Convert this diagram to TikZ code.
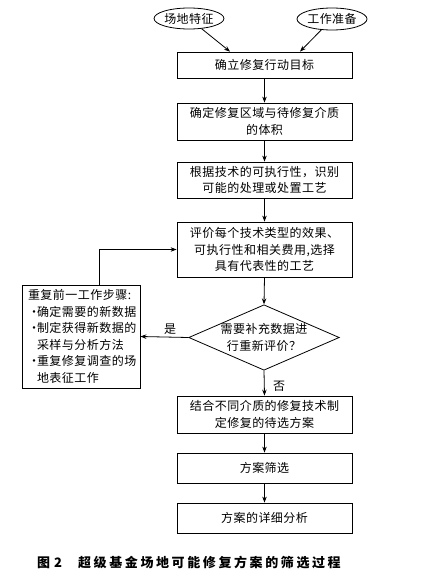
\documentclass[tikz,border=0pt]{standalone}
\usepackage{fontspec}
\setmainfont{Noto Sans CJK SC}[LetterSpace=4]
\usetikzlibrary{shapes.geometric,arrows.meta}
\begin{document}
\begin{tikzpicture}[x=1pt,y=-1pt,
  font=\fontsize{12}{16.5}\selectfont,
  box/.style={draw,line width=0.8pt,minimum width=175pt,inner sep=0pt,align=center},
  oval/.style={draw,ellipse,line width=0.8pt,inner sep=0pt},
  arr/.style={line width=0.8pt,-{Stealth[length=6pt,width=4.5pt]}},
  lbl/.style={inner sep=0pt}]
\useasboundingbox (0,0) rectangle (425,578);
\node[oval,minimum width=62pt,minimum height=21pt] (e1) at (189,18.5) {场地特征};
\node[oval,minimum width=70pt,minimum height=22pt] (e2) at (332,19) {工作准备};
\node[box,minimum height=26pt] (b1) at (264.5,65) {确立修复行动目标};
\node[box,minimum height=37pt] (b2) at (264.5,121.5) {确定修复区域与待修复介质\\的体积};
\node[box,minimum height=36pt] (b3) at (264.5,180) {根据技术的可执行性，识别\\可能的处理或处置工艺};
\node[box,minimum height=55pt] (b4) at (264.5,249.5) {评价每个技术类型的效果、\\可执行性和相关费用,选择\\具有代表性的工艺};
\node[draw,diamond,aspect=2.3,inner sep=0pt,minimum width=149pt,minimum height=65pt,line width=0.8pt,align=center] (d) at (264,337.5) {需要补充数据进\\行重新评价？};
\node[draw,line width=0.8pt,text width=106pt,inner xsep=6pt,inner ysep=0pt,minimum height=103pt,align=left] (lb) at (81,336.5) {重复前一工作步骤:\\
\makebox[9pt][l]{•}确定需要的新数据\\
\makebox[9pt][l]{•}制定获得新数据的\\
\makebox[9pt][l]{}采样与分析方法\\
\makebox[9pt][l]{•}重复修复调查的场\\
\makebox[9pt][l]{}地表征工作};
\node[box,minimum height=37pt] (b5) at (264.5,414.5) {结合不同介质的修复技术制\\定修复的待选方案};
\node[box,minimum height=30pt] (b6) at (264.5,468) {方案筛选};
\node[box,minimum height=30pt] (b7) at (264.5,518) {方案的详细分析};
\node[lbl] (yes) at (170,329) {是};
\node[lbl] (no) at (279,386) {否};
\node[anchor=west,inner sep=0pt,font=\fontsize{13}{15}\selectfont\bfseries] (cap) at (37,563) {图\hspace{4pt}2\hspace{16pt}\addfontfeatures{LetterSpace=20}超级基金场地可能修复方案的筛选过程};
\draw[arr] (e1) -- ([xshift=-34.5pt]b1.north);
\draw[arr] (e2) -- ([xshift=35.5pt]b1.north);
\draw[arr] (b1) -- (b2);
\draw[arr] (b2) -- (b3);
\draw[arr] (b3) -- (b4);
\draw[arr] (b4.south) -- (d.north);
\draw[arr] (d.south) -- (b5.north);
\draw[arr] (d.west) -- (lb.east);
\draw[arr] ([xshift=18pt]lb.north) |- (b4.west);
\draw[arr] (b5) -- (b6);
\draw[arr] (b6) -- (b7);
\end{tikzpicture}
\end{document}
